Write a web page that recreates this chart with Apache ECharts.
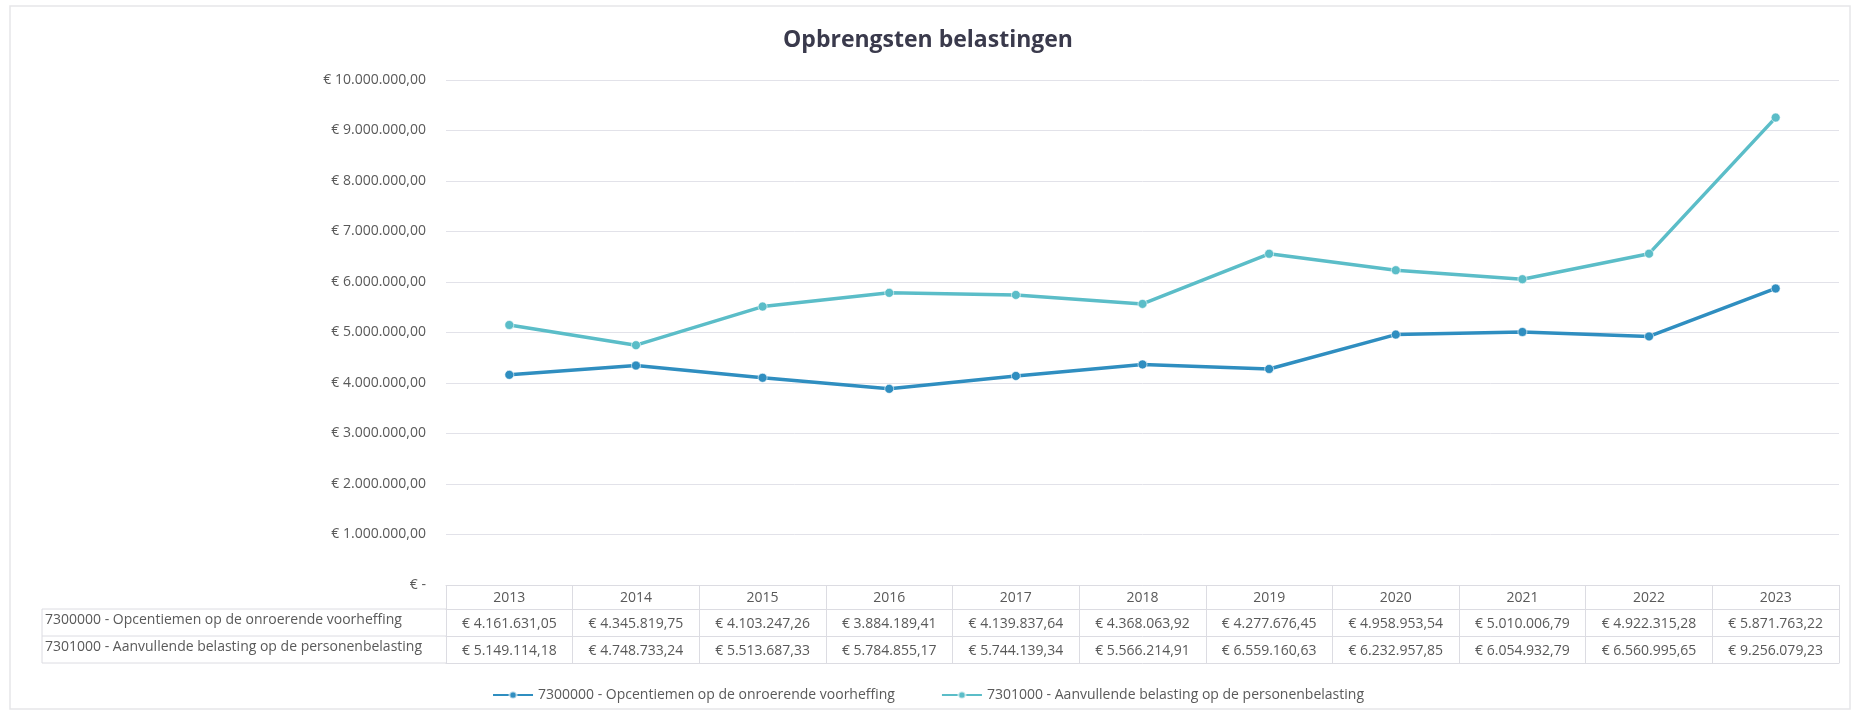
<!DOCTYPE html>
<html>
<head>
<meta charset="utf-8">
<title>Opbrengsten belastingen</title>
<script src="https://cdn.jsdelivr.net/npm/echarts@6/dist/echarts.min.js"></script>
<style>
  html, body { margin: 0; padding: 0; background: #fff; }
  #main { width: 1856px; height: 712px; }
</style>
</head>
<body>
<div id="main"></div>
<script>
// data
var years = ['2013', '2014', '2015', '2016', '2017', '2018', '2019', '2020', '2021', '2022', '2023'];
var names = [
    '7300000 - Opcentiemen op de onroerende voorheffing',
    '7301000 - Aanvullende belasting op de personenbelasting'
];
var opcentiemen = [4161631.05, 4345819.75, 4103247.26, 3884189.41, 4139837.64, 4368063.92,
    4277676.45, 4958953.54, 5010006.79, 4922315.28, 5871763.22];
var aanvullende = [5149114.18, 4748733.24, 5513687.33, 5784855.17, 5744139.34, 5566214.91,
    6559160.63, 6232957.85, 6054932.79, 6560995.65, 9256079.23];
var yTicks = { min: 0, max: 10000000, step: 1000000 };

// € 1.234.567,89 (excel boekhoud-notatie)
function euro(v) {
    if (v === 0) return '€ -';
    var parts = v.toFixed(2).split('.');
    var ints = parts[0].replace(/\B(?=(\d{3})+(?!\d))/g, '.');
    return '€ ' + ints + ',' + parts[1];
}

var font = 'Open Sans';
var txt = '#595959';
var lineCol = '#dcdce2';

var myChart = echarts.init(document.getElementById('main'));

function tableAxis(offset, values) {
    return {
        type: 'category',
        gridIndex: 0,
        position: 'bottom',
        offset: offset,
        data: years,
        boundaryGap: true,
        axisLine: { show: true, lineStyle: { color: lineCol, width: 1 } },
        axisTick: { show: false },
        axisLabel: {
            show: !!values,
            interval: 0,
            margin: 8,
            color: txt,
            fontFamily: font,
            fontSize: 14,
            formatter: function (val, idx) { return values ? euro(values[idx]) : ''; }
        }
    };
}

var option = {
    backgroundColor: '#fff',
    animation: false,
    title: {
        text: 'Opbrengsten belastingen',
        left: 'center',
        top: 24,
        textStyle: { fontFamily: font, fontSize: 23, fontWeight: 'bold', color: '#3a3a4c' }
    },
    legend: {
        top: 683,
        left: 'center',
        itemWidth: 40,
        itemHeight: 9,
        itemGap: 46,
        data: names,
        textStyle: { fontFamily: font, fontSize: 14, color: txt }
    },
    grid: { left: 446, right: 17, top: 80, bottom: 127 },
    xAxis: [
        {
            type: 'category',
            data: years,
            boundaryGap: true,
            axisLine: { show: true, lineStyle: { color: lineCol, width: 1 } },
            axisTick: { show: true, interval: 0, length: 78, lineStyle: { color: lineCol, width: 1 } },
            axisLabel: { interval: 0, margin: 6, color: txt, fontFamily: font, fontSize: 14 }
        },
        tableAxis(24, opcentiemen),
        tableAxis(51, aanvullende),
        tableAxis(78, null)
    ],
    yAxis: {
        type: 'value',
        min: yTicks.min,
        max: yTicks.max,
        interval: yTicks.step,
        axisLine: { show: false },
        axisTick: { show: false },
        splitLine: { lineStyle: { color: '#e2e2e9', width: 1 } },
        axisLabel: {
            margin: 20,
            color: txt,
            fontFamily: font,
            fontSize: 14,
            formatter: euro
        }
    },
    series: [
        {
            name: names[0],
            type: 'line',
            data: opcentiemen,
            symbol: 'circle',
            symbolSize: 9,
            lineStyle: { width: 3.5, color: '#2f8ec0' },
            itemStyle: { color: '#2f8ec0', borderColor: 'rgba(255,255,255,0.6)', borderWidth: 1 }
        },
        {
            name: names[1],
            type: 'line',
            data: aanvullende,
            symbol: 'circle',
            symbolSize: 9,
            lineStyle: { width: 3.5, color: '#5bbdc8' },
            itemStyle: { color: '#5bbdc8', borderColor: 'rgba(255,255,255,0.6)', borderWidth: 1 }
        }
    ],
    graphic: [
        // kader rond de grafiek
        { type: 'rect', shape: { x: 10, y: 6, width: 1840, height: 703 }, silent: true,
          style: { fill: 'none', stroke: '#e6e6e9', lineWidth: 1.5 } },
        // linker kolom van de datatabel
        { type: 'line', shape: { x1: 42, y1: 609, x2: 446, y2: 609 }, style: { stroke: lineCol, lineWidth: 1 } },
        { type: 'line', shape: { x1: 42, y1: 636, x2: 446, y2: 636 }, style: { stroke: lineCol, lineWidth: 1 } },
        { type: 'line', shape: { x1: 42, y1: 663, x2: 446, y2: 663 }, style: { stroke: lineCol, lineWidth: 1 } },
        { type: 'line', shape: { x1: 42, y1: 609, x2: 42, y2: 663 }, style: { stroke: lineCol, lineWidth: 1 } },
        { type: 'text', left: 45, top: 613,
          style: { text: names[0], fontFamily: font, fontSize: 14, fill: txt } },
        { type: 'text', left: 45, top: 640,
          style: { text: names[1], fontFamily: font, fontSize: 14, fill: txt } }
    ]
};

myChart.setOption(option);
</script>
</body>
</html>
